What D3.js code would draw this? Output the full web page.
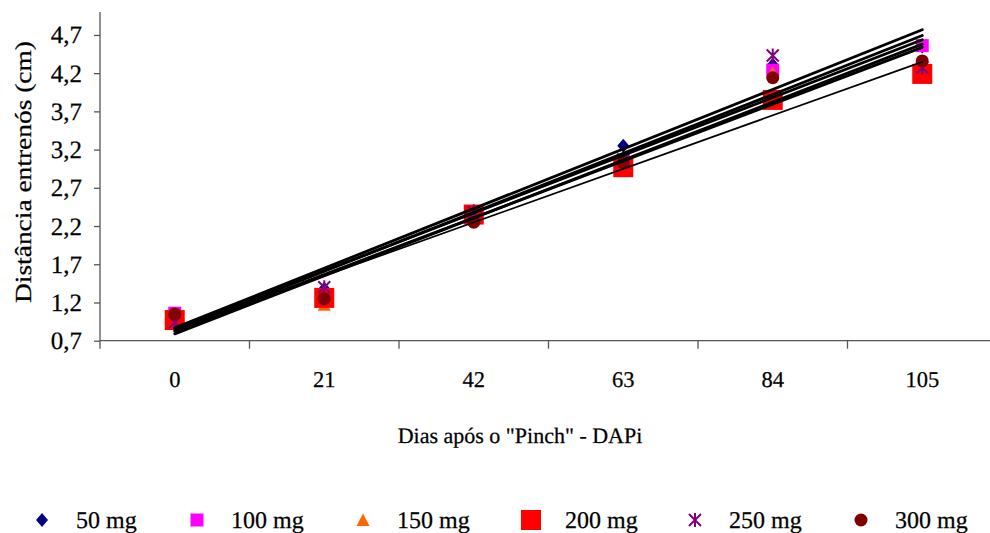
<!DOCTYPE html>
<html>
<head>
<meta charset="utf-8">
<script src="https://cdn.jsdelivr.net/npm/d3@7"></script>
<style>
  html, body { margin: 0; padding: 0; background: #fff; }
  svg { display: block; }
  text { font-family: "Liberation Serif", "Times New Roman", serif; fill: #000; stroke: #000; stroke-width: 0.25px; text-rendering: geometricPrecision; }
</style>
</head>
<body>
<svg id="chart" width="990" height="533"></svg>
<script>
// Days after pinch (categories)
const days = ["0", "21", "42", "63", "84", "105"];

// Internode distance (cm) per dose
const s50  = [1.02, 1.38, 2.40, 3.25, 4.31, 4.55];
const s100 = [1.06, 1.30, 2.38, 3.05, 4.24, 4.56];
const s150 = [1.00, 1.17, 2.36, 3.02, 4.21, 4.35];
const s200 = [0.97, 1.26, 2.35, 2.97, 3.85, 4.19];
const s250 = [0.94, 1.40, 2.38, 3.07, 4.43, 4.27];
const s300 = [1.05, 1.25, 2.25, 3.03, 4.14, 4.36];

const seriesNames = ["50 mg", "100 mg", "150 mg", "200 mg", "250 mg", "300 mg"];
const yTicks = [0.7, 1.2, 1.7, 2.2, 2.7, 3.2, 3.7, 4.2, 4.7];

const series = [
  { name: seriesNames[0], values: s50,  color: "#000080", shape: "diamond", lw: 2.8 },
  { name: seriesNames[1], values: s100, color: "#FF00FF", shape: "square",  lw: 2.8 },
  { name: seriesNames[2], values: s150, color: "#FF6600", shape: "triangle", lw: 2.8 },
  { name: seriesNames[3], values: s200, color: "#FF0000", shape: "bigsquare", lw: 1.7 },
  { name: seriesNames[4], values: s250, color: "#800080", shape: "star",    lw: 2.8 },
  { name: seriesNames[5], values: s300, color: "#800000", shape: "circle",  lw: 2.8 }
];

const svg = d3.select("#chart");

const x = d3.scaleBand().domain(days).range([100, 997]).padding(0);
const y = d3.scaleLinear().domain([0.7, 5.0]).range([340.7, 12]);
const cx = d => x(d) + x.bandwidth() / 2;

// Axes
const yAxis = d3.axisLeft(y).tickValues(yTicks).tickSize(6).tickPadding(12)
  .tickFormat(d => d3.format(".1f")(d).replace(".", ","));
const gy = svg.append("g").attr("transform", "translate(100,0)").call(yAxis);
gy.select(".domain").attr("d", `M0,${y(5.0)}V${y(0.7) + 8}`);
gy.selectAll(".tick text").attr("font-size", 25);

const gx = svg.append("g").attr("transform", `translate(0,${y(0.7)})`)
  .call(d3.axisBottom(x).tickSize(0).tickPadding(30));
gx.select(".domain").attr("d", "M100,0H997");
gx.selectAll(".tick text").attr("font-size", 22.5);
// category separators below the axis
gx.selectAll("line.sep").data(days.slice(1)).enter().append("line")
  .attr("class", "sep")
  .attr("x1", d => x(d)).attr("x2", d => x(d))
  .attr("y1", 0).attr("y2", 8);

svg.selectAll(".domain, .tick line, line.sep").attr("stroke", "#555").attr("stroke-width", 1.3);
svg.selectAll(".tick text").attr("fill", "#000")
  .attr("font-family", "'Liberation Serif', 'Times New Roman', serif");

// Axis titles
svg.append("text")
  .attr("transform", "translate(31,172) rotate(-90)")
  .attr("text-anchor", "middle")
  .attr("font-size", 23)
  .attr("textLength", 262).attr("lengthAdjust", "spacingAndGlyphs")
  .text("Distância entrenós (cm)");
svg.append("text")
  .attr("x", 520).attr("y", 443)
  .attr("text-anchor", "middle")
  .attr("font-size", 22)
  .text("Dias após o \"Pinch\" - DAPi");

// Marker drawing
function drawMarker(g, shape, color) {
  if (shape === "diamond") {
    g.append("path").attr("d", "M0,-7L6,0L0,7L-6,0Z").attr("fill", color);
  } else if (shape === "square") {
    g.append("rect").attr("x", -6.5).attr("y", -6.5).attr("width", 13).attr("height", 13).attr("fill", color);
  } else if (shape === "bigsquare") {
    g.append("rect").attr("x", -10).attr("y", -10).attr("width", 20).attr("height", 20).attr("fill", color);
  } else if (shape === "triangle") {
    g.append("path").attr("d", "M0,-6.5L6.5,6H-6.5Z").attr("fill", color);
  } else if (shape === "circle") {
    g.append("circle").attr("r", 6.5).attr("fill", color);
  } else if (shape === "star") {
    g.append("path").attr("d", "M-6,-6L6,6M-6,6L6,-6M0,-7V7")
      .attr("stroke", color).attr("stroke-width", 2).attr("fill", "none");
  }
}

// Data markers
series.forEach(s => {
  s.values.forEach((v, i) => {
    const g = svg.append("g").attr("transform", `translate(${cx(days[i])},${y(v)})`);
    drawMarker(g, s.shape, s.color);
  });
});

// Linear trend lines (least squares over category index)
function fit(values) {
  const n = values.length;
  const xs = d3.range(n);
  const mx = d3.mean(xs), my = d3.mean(values);
  const b = d3.sum(xs, (xi, i) => (xi - mx) * (values[i] - my)) / d3.sum(xs, xi => (xi - mx) ** 2);
  return i => my + b * (i - mx);
}
const lineGen = d3.line().x(d => cx(days[d.i])).y(d => y(d.v));
series.forEach(s => {
  const f = fit(s.values);
  const pts = [0, days.length - 1].map(i => ({ i, v: f(i) }));
  svg.append("path").attr("d", lineGen(pts))
    .attr("fill", "none").attr("stroke", "#000").attr("stroke-width", s.lw)
    .attr("stroke-linecap", "round");
});

// Legend
const legendX = [42, 197, 363, 531, 695, 861];
const legend = svg.append("g");
series.forEach((s, k) => {
  const g = legend.append("g").attr("transform", `translate(${legendX[k]},520)`);
  drawMarker(g, s.shape, s.color);
  g.append("text").attr("x", 34).attr("y", 8).attr("font-size", 24).text(s.name);
});
</script>
</body>
</html>
